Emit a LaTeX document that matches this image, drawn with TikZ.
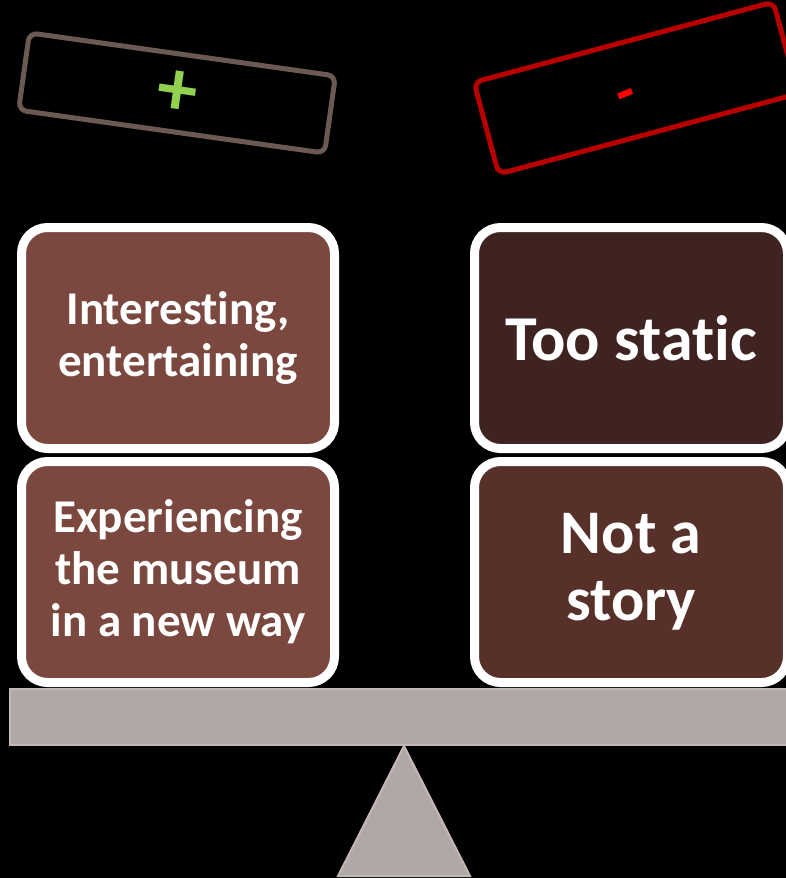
\documentclass[tikz,border=0pt]{standalone}
\usepackage{fontspec}
\setmainfont{Carlito}[Ligatures=NoCommon]
\usetikzlibrary{positioning, shapes.misc}

\definecolor{probrown}{HTML}{7A483E}
\definecolor{staticbrown}{HTML}{3E2320}
\definecolor{storybrown}{HTML}{58302A}
\definecolor{taupe}{HTML}{6B5A52}
\definecolor{darkred}{HTML}{B80000}
\definecolor{minusred}{HTML}{FF0000}
\definecolor{plusgreen}{HTML}{92D050}
\definecolor{beamgray}{HTML}{B0A8A5}
\definecolor{beamedge}{HTML}{C2B9B6}

\begin{document}
\begin{tikzpicture}[x=1pt, y=1pt, font=\bfseries,
		box/.style={draw=white, line width=9pt, rounded corners=26pt, minimum width=313pt, minimum height=221pt, text=white, align=center},
		tagbox/.style={draw, line width=5pt, rounded corners=8pt, minimum width=309pt, minimum height=78pt}]
			\fill[black] (0,0) rectangle (786,-878);
			\useasboundingbox (0,0) rectangle (786,-878);
			
			\node[tagbox, draw=taupe, rotate=-8, font=\fontsize{80}{80}\selectfont\bfseries] (protag) at (177,-93) {\color{plusgreen}+};
			\node[tagbox, draw=darkred, rotate=15, minimum width=310pt, minimum height=95pt, font=\fontsize{60}{60}\selectfont\bfseries] (contag) at (636,-88) {\color{minusred}\raisebox{-21pt}[0pt][0pt]{\makebox[0pt][r]{\rotatebox{7}{-}}}};
			
			\node[box, fill=probrown, font=\fontsize{47}{52}\selectfont\bfseries] (interest) at (178,-338) {Interesting,\\entertaining};
			\node[box, fill=probrown, font=\fontsize{47}{52}\selectfont\bfseries] (newway) [below = 4pt of interest] {Experiencing\\the museum\\in a new way};
			\node[box, fill=staticbrown, font=\fontsize{64}{70}\selectfont\bfseries] (static) at (631,-338) {Too static};
			\node[box, fill=storybrown, font=\fontsize{62}{67}\selectfont\bfseries] (story) [below = 4pt of static] {Not a\\story};
			
			\draw[fill=beamgray, draw=beamedge, line width=2pt] (404,-746) -- (470,-876) -- (338,-876) -- cycle;
			\node[draw=beamedge, fill=beamgray, line width=2pt, minimum width=782pt, minimum height=56pt, inner sep=0pt] (beam) at (401,-717) {};
\end{tikzpicture}
\end{document}
